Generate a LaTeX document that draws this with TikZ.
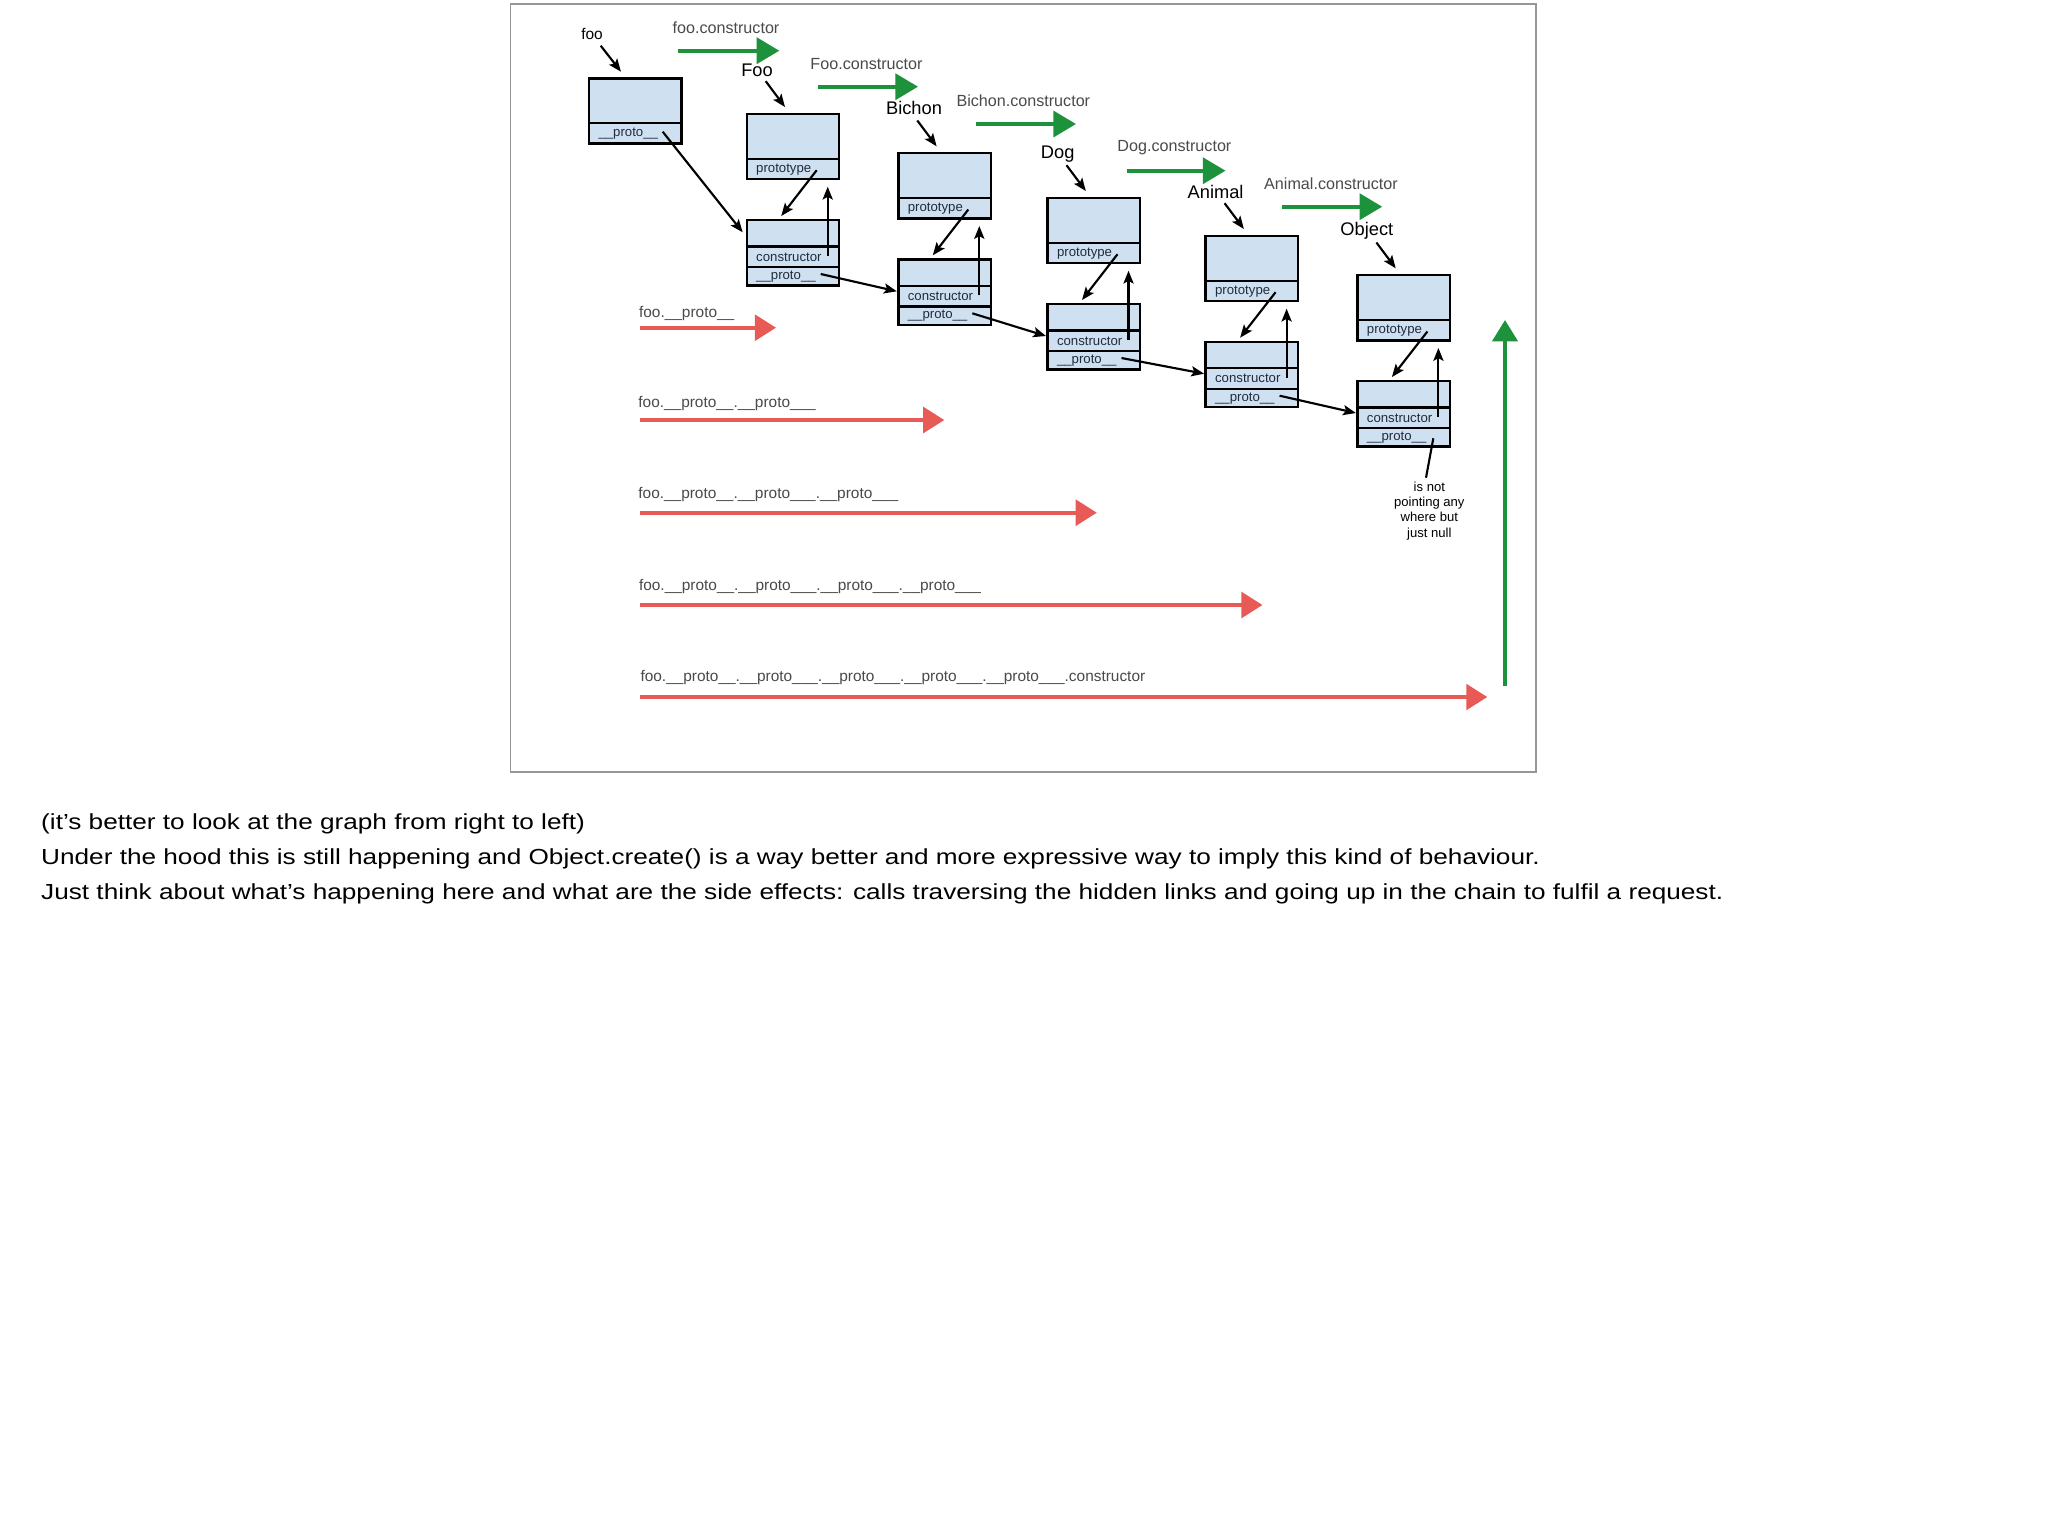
\documentclass[tikz,border=0pt]{standalone}
\usepackage{fontspec}
\setmainfont{Liberation Sans}
\newfontfamily\bodyfont[FakeStretch=1.2]{Liberation Sans}
\usetikzlibrary{arrows.meta,calc}
\definecolor{boxblue}{RGB}{207,224,241}
\definecolor{boxtext}{RGB}{31,45,61}
\definecolor{mygreen}{RGB}{30,145,60}
\definecolor{myred}{RGB}{232,90,85}
\definecolor{labgray}{RGB}{74,74,74}
\definecolor{framegray}{RGB}{150,150,150}
\tikzset{
  objbox/.style={draw=black, line width=0.9pt, fill=boxblue, inner sep=0pt, outer sep=0pt,
    minimum width=92.5*0.375pt, anchor=north west},
  rowtxt/.style={anchor=west, inner sep=0pt, text=boxtext, font=\fontsize{4.95}{5}\selectfont},
  blk/.style={-{Stealth[length=4.8pt,width=3.8pt,inset=1pt]}, line width=0.8pt},
  grnarr/.style={draw=mygreen, line width=1.5pt, -{Triangle[length=8.5pt,width=9.7pt]}},
  redarr/.style={draw=myred, line width=1.4pt, -{Triangle[length=7.9pt,width=9.6pt]}},
  glab/.style={text=labgray, font=\fontsize{6.05}{7}\selectfont, inner sep=0pt},
  rlab/.style={text=labgray, font=\fontsize{5.78}{7}\selectfont, inner sep=0pt, anchor=west},
  nm/.style={font=\fontsize{6.85}{8}\selectfont, inner sep=0pt},
  bodytxt/.style={anchor=base west, inner sep=0pt, font=\bodyfont\fontsize{8.18}{10}\selectfont},
}
% #1 name, #2 left x, #3 prototype box top, #4 constructor box top
\newcommand\objcol[4]{%
  \node[objbox, minimum height=65.5*0.375pt] (#1-p) at (#2,#3) {};
  \node[objbox, minimum height=20.5*0.375pt] (#1-pr) at (#2,#3+45) {};
  \node[rowtxt] (#1-ptx) at (#2+9,#3+55.5) {prototype};
  \node[objbox, minimum height=65.5*0.375pt] (#1-c) at (#2,#4) {};
  \node[objbox, minimum height=20.5*0.375pt] (#1-cr) at (#2,#4+26.5) {};
  \node[objbox, minimum height=18.5*0.375pt] (#1-pp) at (#2,#4+47) {};
  \node[rowtxt] (#1-ctx) at (#2+9,#4+37) {constructor};
  \node[rowtxt] (#1-ppx) at (#2+9,#4+56.5) {\_\_proto\_\_};
  \coordinate (#1-a1) at (#2+70,#3+56.5);
  \coordinate (#1-a2) at (#2+34.5,#4-4);
  \coordinate (#1-u1) at (#2+81,#4+36);
  \coordinate (#1-u2) at (#2+81,#3+73);
  \coordinate (#1-out) at (#2+74,#4+54);
  \coordinate (#1-in) at (#2-1.5,#4+32);
  \coordinate (#1-n1) at (#2+19,#3-32.5);
  \coordinate (#1-n2) at (#2+38.3,#3-6.7);
  \draw[blk] (#1-a1) -- (#1-a2);
  \draw[blk] (#1-u1) -- (#1-u2);
  \draw[blk] (#1-n1) -- (#1-n2);
}
\begin{document}
\begin{tikzpicture}[x=0.375pt,y=-0.375pt]
\fill[white] (0,0) rectangle (2048,1527);
\useasboundingbox (0,0) rectangle (2048,1527);
\draw[framegray, line width=0.55pt] (510.7,3.9) rectangle (1536,771.9);

% foo instance
\node[nm, font=\fontsize{5.8}{7}\selectfont] (fooN) at (592,34) {foo};
\coordinate (foo-n1) at (600.7,45.7);
\coordinate (foo-n2) at (621,71.7);
\draw[blk] (foo-n1) -- (foo-n2);
\node[objbox, minimum height=65.5*0.375pt] (foo-b) at (589,78.3) {};
\node[objbox, minimum height=20.5*0.375pt] (foo-r) at (589,123) {};
\node[rowtxt] (foo-tx) at (598,133.2) {\_\_proto\_\_};
\coordinate (foo-out) at (662.7,131.7);
\coordinate (Foo-fin) at (742.7,232.3);

% columns
\objcol{Foo}{746.7}{113.7}{220}
\objcol{Bichon}{898.3}{153}{259.3}
\objcol{Dog}{1047.5}{197.7}{304}
\objcol{Animal}{1205.6}{235.7}{341.7}
\objcol{Object}{1357.4}{275}{381}

% names
\node[nm] (FooN) at (757,70) {Foo};
\node[nm] (BichonN) at (914,108) {Bichon};
\node[nm] (DogN) at (1057.7,154.2) {Dog};
\node[nm] (AnimalN) at (1215.6,192) {Animal};
\node[nm] (ObjectN) at (1366.8,231) {Object};

% __proto__ links
\draw[blk] (foo-out) -- (Foo-fin);
\draw[blk] (Foo-out) -- (Bichon-in);
\draw[blk] (Bichon-out) -- (Dog-in);
\draw[blk] (Dog-out) -- (Animal-in);
\draw[blk] (Animal-out) -- (Object-in);
\coordinate (nullA) at (1433.3,438.3);
\coordinate (nullB) at (1426,477.7);
\draw[line width=0.8pt] (nullA) -- (nullB);
\node[inner sep=0pt, align=center, font=\fontsize{4.9}{5.75}\selectfont] (nulltxt) at (1429.3,510.7)
  {is not\\pointing any\\where but\\just null};

% green constructor arrows
\node[glab] (gl1) at (726,28) {foo.constructor};
\coordinate (g1a) at (678.3,50.7); \coordinate (g1b) at (779.3,50.7);
\draw[grnarr] (g1a) -- (g1b);
\node[glab] (gl2) at (866.5,64) {Foo.constructor};
\coordinate (g2a) at (818,86.7); \coordinate (g2b) at (918,86.7);
\draw[grnarr] (g2a) -- (g2b);
\node[glab] (gl3) at (1023.3,100.6) {Bichon.constructor};
\coordinate (g3a) at (975.7,124); \coordinate (g3b) at (1076,124);
\draw[grnarr] (g3a) -- (g3b);
\node[glab] (gl4) at (1174.4,148) {Dog.constructor};
\coordinate (g4a) at (1126.7,170.7); \coordinate (g4b) at (1225.5,170.7);
\draw[grnarr] (g4a) -- (g4b);
\node[glab] (gl5) at (1331,184) {Animal.constructor};
\coordinate (g5a) at (1282.4,206.7); \coordinate (g5b) at (1382.2,206.7);
\draw[grnarr] (g5a) -- (g5b);
\coordinate (gva) at (1505,686); \coordinate (gvb) at (1505,320);
\draw[grnarr, -{Triangle[length=8pt,width=9.4pt]}] (gva) -- (gvb);

% red __proto__ chains
\node[rlab] (rl1) at (638.6,313.3) {foo.\_\_proto\_\_};
\coordinate (r1a) at (639.6,327.7); \coordinate (r1b) at (776,327.7);
\draw[redarr] (r1a) -- (r1b);
\node[rlab] (rl2) at (637.9,404) {foo.\_\_proto\_\_.\_\_proto\_\_\_};
\coordinate (r2a) at (640,420); \coordinate (r2b) at (944.3,420);
\draw[redarr] (r2a) -- (r2b);
\node[rlab] (rl3) at (637.9,495) {foo.\_\_proto\_\_.\_\_proto\_\_\_.\_\_proto\_\_\_};
\coordinate (r3a) at (640,512.7); \coordinate (r3b) at (1096.8,512.7);
\draw[redarr] (r3a) -- (r3b);
\node[rlab] (rl4) at (638.5,587) {foo.\_\_proto\_\_.\_\_proto\_\_\_.\_\_proto\_\_\_.\_\_proto\_\_\_};
\coordinate (r4a) at (640,605); \coordinate (r4b) at (1262.5,605);
\draw[redarr] (r4a) -- (r4b);
\node[rlab] (rl5) at (640,677.5) {foo.\_\_proto\_\_.\_\_proto\_\_\_.\_\_proto\_\_\_.\_\_proto\_\_\_.\_\_proto\_\_\_.constructor};
\coordinate (r5a) at (640,697); \coordinate (r5b) at (1487.3,697);
\draw[redarr] (r5a) -- (r5b);

% caption text
\node[bodytxt] (t1) at (40.7,829.5) {(it’s better to look at the graph from right to left)};
\node[bodytxt] (t2) at (40.7,864.5) {Under the hood this is still happening and Object.create() is a way better and more expressive way to imply this kind of behaviour.};
\node[bodytxt] (t3) at (40.7,899) {Just think about what’s happening here and what are the side effects: calls traversing the hidden links and going up in the chain to fulfil a request.};
\end{tikzpicture}
\end{document}
